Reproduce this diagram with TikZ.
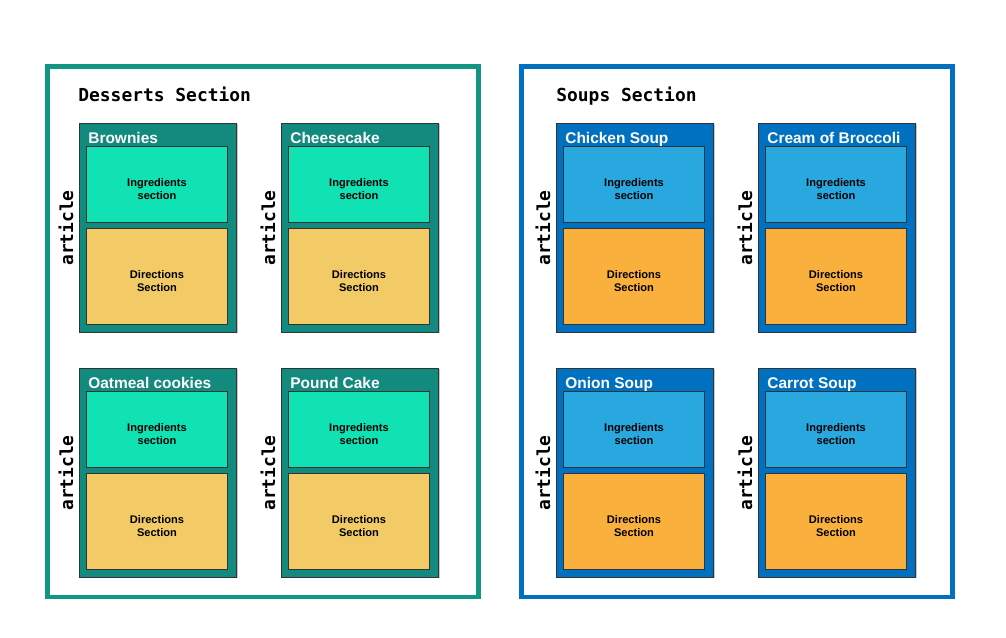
\documentclass[tikz,border=0pt]{standalone}
\usepackage{fontspec}
\setmainfont{Liberation Sans}
\newfontfamily\codefont{DejaVu Sans Mono}
\usetikzlibrary{positioning}
\definecolor{framed}{RGB}{16,150,130}
\definecolor{carded}{RGB}{18,138,126}
\definecolor{ingd}{RGB}{17,226,180}
\definecolor{dird}{RGB}{242,203,102}
\definecolor{frames}{RGB}{0,112,192}
\definecolor{cardes}{RGB}{0,112,192}
\definecolor{ings}{RGB}{41,168,224}
\definecolor{dirs}{RGB}{249,176,60}
\tikzset{
	sectionframe/.style={line width=2.4pt},
	sectiontitle/.style={anchor=base west,inner sep=0pt,font=\codefont\bfseries\fontsize{10.2}{12}\selectfont},
	cardtitle/.style={anchor=base west,text=white,inner sep=0pt,font=\bfseries\fontsize{8.8}{10}\selectfont},
	artlabel/.style={rotate=90,font=\codefont\bfseries\fontsize{10.2}{12}\selectfont},
	innerbox/.style={draw=black!80,line width=0.5pt,minimum width=2.82cm,inner sep=0pt},
	innertext/.style={align=center,inner sep=0pt,font=\bfseries\fontsize{6.3}{6.9}\selectfont}
}
\begin{document}
\begin{tikzpicture}[x=0.02cm,y=-0.02cm]
	\useasboundingbox (0,0) rectangle (1006,638);
	% the two sections
	\draw[sectionframe,draw=framed] (47.5,66.5) rectangle (478.5,597);
	\draw[sectionframe,draw=frames] (521.5,66.5) rectangle (952.5,597);
	\node[sectiontitle] (desserts) at (78,102) {Desserts Section};
	\node[sectiontitle] (soups) at (556,102) {Soups Section};
	% one article per recipe
	\foreach \x/\y/\n/\t/\k in {79/123/brownies/Brownies/d,281/123/cheesecake/Cheesecake/d,
		79/368/oatmeal/Oatmeal cookies/d,281/368/poundcake/Pound Cake/d,
		556/123/chicken/Chicken Soup/s,758/123/broccoli/Cream of Broccoli/s,
		556/368/onion/Onion Soup/s,758/368/carrot/Carrot Soup/s}{
		\fill[black!22] (\x+2,\y+1) rectangle +(157,209);
		\draw[fill=carde\k,draw=black!80,line width=0.5pt] (\x,\y) rectangle +(157,209);
		\node[cardtitle] (\n-title) at (\x+9,\y+20.5) {\t};
		\node[innerbox,fill=ing\k,minimum height=1.52cm] (\n-ing) at (\x+78,\y+61) {};
		\node[innerbox,fill=dir\k,minimum height=1.92cm] (\n-dir) at (\x+78,\y+153) {};
		\node[innertext] (\n-ingtext) at ([yshift=-0.1cm]\n-ing.center) {Ingredients\\section};
		\node[innertext] (\n-dirtext) at ([yshift=-0.1cm]\n-dir.center) {Directions\\Section};
		\node[artlabel] (\n-art) at (\x-13,\y+105) {article};
	}
\end{tikzpicture}
\end{document}
